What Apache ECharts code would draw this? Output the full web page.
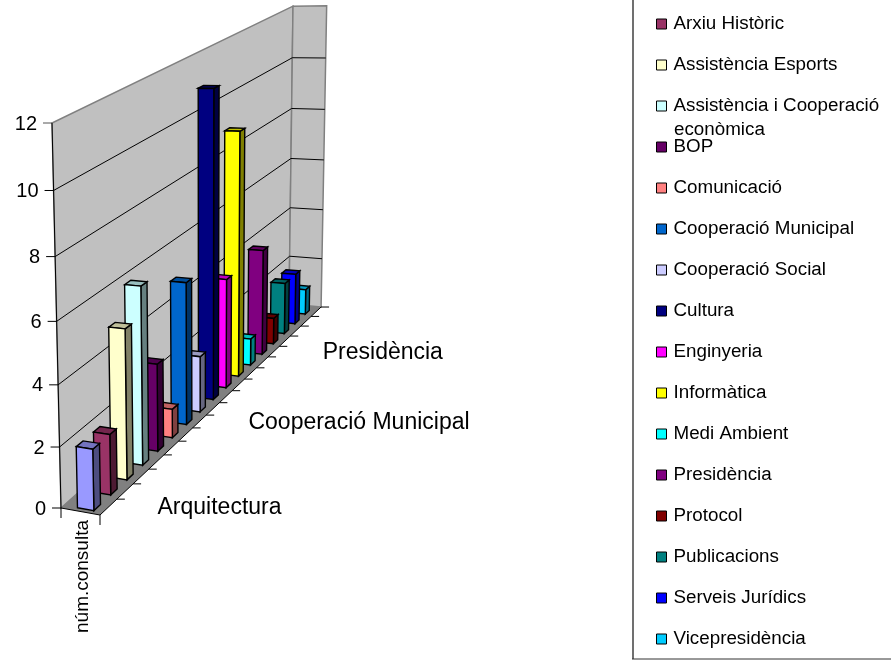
<!DOCTYPE html>
<html><head><meta charset="utf-8">
<style>html,body{margin:0;padding:0;background:#fff}#c{width:891px;height:661px}</style>
<script src="https://cdn.jsdelivr.net/npm/echarts@6/dist/echarts.min.js"></script>
</head><body><div id="c"></div>
<script>
const categories = ["Arquitectura","Arxiu Històric","Assistència Esports","Assistència i Cooperació\neconòmica","BOP","Comunicació","Cooperació Municipal","Cooperació Social","Cultura","Enginyeria","Informàtica","Medi Ambient","Presidència","Protocol","Publicacions","Serveis Jurídics","Vicepresidència"];
const values = [2,2,5,6,3,1,5,2,11,4,9,1,4,1,2,2,1];
const colors = ["#9999FF","#993366","#FFFFCC","#CCFFFF","#660066","#FF8080","#0066CC","#CCCCFF","#000080","#FF00FF","#FFFF00","#00FFFF","#800080","#800000","#008080","#0000FF","#00CCFF"];
const yTicks = [0,2,4,6,8,10,12];
const depthLabels = ["Arquitectura","Cooperació Municipal","Presidència"];
const xCategory = "núm.consulta";

const FONT = '"Liberation Sans", Arial, sans-serif';
// one-point perspective frame of the Excel 3-D box
const O=[61,508,1], A=[100,515,1], B=[289,304,1], C=[52,123,1];
const ka=0.98543, kb=1.3158, kc=0.9408;
function proj(u,d,v){
  const p=[0,1,2].map(i=>O[i]+u*(ka*A[i]-O[i])+d*(kb*B[i]-O[i])+v*(kc*C[i]-O[i]));
  return [p[0]/p[2],p[1]/p[2]];
}
function shade(hex,f){
  const n=parseInt(hex.slice(1),16);
  return 'rgb('+[(n>>16)&255,(n>>8)&255,n&255].map(c=>Math.round(c*f)).join(',')+')';
}
function norm(params,api,i,val){
  const c=api.coord([i,val]), s=params.coordSys;
  return {d:(c[0]-s.x)/s.width, v:(s.y+s.height-c[1])/s.height, band:api.size([1,0])[0]/s.width};
}
const poly=(pts,fill,stroke,lw)=>({type:'polygon',shape:{points:pts},style:{fill:fill,stroke:stroke||'none',lineWidth:lw||1}});
const line=(a,b,stroke,lw)=>({type:'line',shape:{x1:a[0],y1:a[1],x2:b[0],y2:b[1]},style:{stroke:stroke,lineWidth:lw||1,fill:null}});

const U0=0.35,U1=0.77,DEPTH0=0.17,DEPTH1=0.56;
function barSeries(name,i){
  return {type:'custom',name:name,z:100-i,coordinateSystem:'cartesian2d',itemStyle:{color:colors[i]},
    encode:{x:0,y:1},data:[[i,values[i]]],silent:true,
    renderItem(params,api){
      const k=api.value(0), n=norm(params,api,k,api.value(1));
      const d0=n.d-n.band/2+DEPTH0*n.band, d1=n.d-n.band/2+DEPTH1*n.band, v=n.v, col=colors[k];
      return {type:'group',children:[
        poly([proj(U1,d0,0),proj(U1,d1,0),proj(U1,d1,v),proj(U1,d0,v)],shade(col,.5),'#000',1.4),
        poly([proj(U0,d0,v),proj(U1,d0,v),proj(U1,d1,v),proj(U0,d1,v)],shade(col,.75),'#000',1.4),
        poly([proj(U0,d0,0),proj(U1,d0,0),proj(U1,d0,v),proj(U0,d0,v)],col,'#000',1.4)
      ]};
    }};
}
const wallSeries={type:'custom',z:1,silent:true,encode:{x:0,y:1},data:[[0,0]],
  renderItem(){
    return {type:'group',children:[
      poly([proj(0,0,0),proj(0,1,0),proj(0,1,1),proj(0,0,1)],'#C0C0C0','#808080',1.5),
      poly([proj(0,1,0),proj(1,1,0),proj(1,1,1),proj(0,1,1)],'#C0C0C0','#808080',1.5)
    ]};
  }};
const gridSeries={type:'custom',z:2,silent:true,encode:{x:0,y:1},data:yTicks.map(t=>[0,t]),
  renderItem(params,api){
    const n=norm(params,api,0,api.value(1));
    const t=api.value(1), a=proj(0,0,n.v), ch=[];
    if(t>0&&t<12){ch.push(line(a,proj(0,1,n.v),'#000'));}
    if(t>0&&t<12){ch.push(line(proj(0,1,n.v),proj(1,1,n.v),'#000'));}
    ch.push(line(a,[a[0]-9,a[1]],t===12?'#555':'#000'));
    ch.push({type:'text',style:{x:a[0]-15,y:a[1]+1,text:String(t),align:'right',verticalAlign:'middle',font:'20px '+FONT,fill:'#000'}});
    return {type:'group',children:ch};
  }};
const floorSeries={type:'custom',z:3,silent:true,encode:{x:0,y:1},data:[[0,0]],
  renderItem(){
    return {type:'group',children:[
      poly([proj(0,0,0),proj(1,0,0),proj(1,1,0),proj(0,1,0)],'#808080'),
      line(proj(0,0,0),proj(1,0,0),'#000'),
      line(proj(1,0,0),proj(1,1,0),'#000'),
      line(proj(0,0,0),proj(0,0,1),'#000'),
      line(proj(0,0,0),[proj(0,0,0)[0],proj(0,0,0)[1]+10],'#000'),
      line(proj(1,0,0),[proj(1,0,0)[0],proj(1,0,0)[1]+10],'#000')
    ]};
  }};
const tickSeries={type:'custom',z:4,silent:true,encode:{x:0,y:1},data:categories.map((c,i)=>[i,0]),
  renderItem(params,api){
    const i=api.value(0), n=norm(params,api,i,0), d=n.d+n.band/2, p=proj(1,d,0), ch=[line(p,[p[0]+8,p[1]],'#000')];
    const name=categories[i];
    if(depthLabels.includes(name)){
      const q=proj(1,n.d,0);
      ch.push({type:'text',style:{x:q[0]+49,y:q[1]+1,text:name,align:'left',verticalAlign:'middle',font:'23px '+FONT,fill:'#000'}});
    }
    return {type:'group',children:ch};
  }};
const xLabelSeries={type:'custom',z:4,silent:true,encode:{x:0,y:1},data:[[0,0]],
  renderItem(){
    const p=proj(.5,0,0);
    return {type:'text',x:p[0]+2,y:520,rotation:Math.PI/2,style:{x:0,y:0,text:xCategory,align:'right',verticalAlign:'middle',font:'19px '+FONT,fill:'#000'}};
  }};

const chart=echarts.init(document.getElementById('c'),null,{renderer:'canvas'});
chart.setOption({
  animation:false,backgroundColor:'#fff',
  grid:{left:60,top:120,width:240,height:390,show:false},
  xAxis:{type:'category',data:categories,show:false},
  yAxis:{type:'value',min:0,max:12,interval:2,show:false},
  legend:{orient:'vertical',left:651,top:9,height:700,itemGap:21,itemWidth:10,itemHeight:10,icon:'rect',
    data:categories.slice(1),selectedMode:false,
    formatter:n=>n.split('\n')[0],
    itemStyle:{borderColor:'#000',borderWidth:1},
    textStyle:{fontFamily:FONT,fontSize:18.8,lineHeight:20,color:'#000',padding:[0,0,0,2]}},
  graphic:[
    {type:'line',z:10,shape:{x1:633,y1:0,x2:633,y2:659},style:{stroke:'#707070',lineWidth:2}},
    {type:'line',z:10,shape:{x1:632,y1:659,x2:891,y2:659},style:{stroke:'#333',lineWidth:1}},
    {type:'text',z:10,x:674,y:120,style:{text:categories[3].split('\n')[1],font:'18.8px '+FONT,fill:'#000'}}
  ],
  series:[wallSeries,gridSeries,floorSeries,tickSeries,xLabelSeries].concat(categories.map(barSeries))
});
</script></body></html>
